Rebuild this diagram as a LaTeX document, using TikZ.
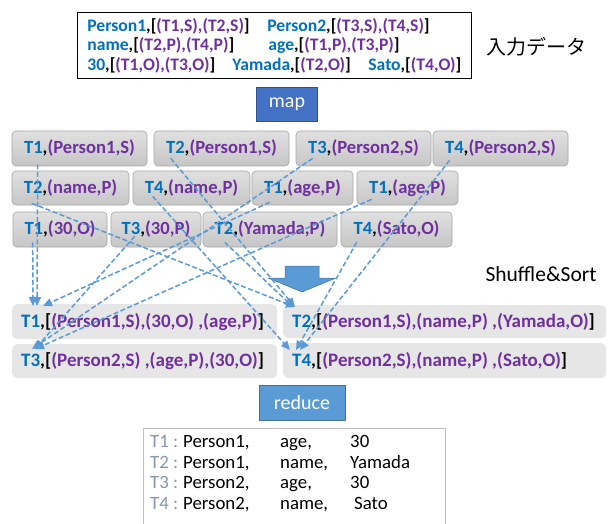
\documentclass[tikz,border=0pt]{standalone}
\usepackage{fontspec}
\setmainfont{Carlito}
\newfontfamily\jpfont{Noto Sans CJK JP}
\usetikzlibrary{arrows.meta,calc}

\definecolor{tblue}{HTML}{0070C0}
\definecolor{tpurp}{HTML}{7030A0}
\definecolor{flowblue}{HTML}{5B9BD5}
\definecolor{flowedge}{HTML}{41719C}
\definecolor{mapblue}{HTML}{4472C4}
\definecolor{mapedge}{HTML}{2F528F}
\definecolor{keytop}{HTML}{E0E0E0}
\definecolor{keybot}{HTML}{C6C6C6}
\definecolor{keyedge}{HTML}{A6A6A6}
\definecolor{groupfill}{HTML}{E7E6E6}
\definecolor{resedge}{HTML}{BFBFBF}
\definecolor{tidgray}{HTML}{8496B0}

\newcommand\kb[1]{\textcolor{tblue}{#1}}
\newcommand\kp[1]{\textcolor{tpurp}{#1}}

\tikzset{
  kvbox/.style={draw=keyedge, line width=0.6pt, top color=keytop, bottom color=keybot,
    rounded corners=4pt, inner sep=0pt, align=center,
    font=\bfseries\fontsize{18.6}{20}\selectfont},
  groupbox/.style={fill=groupfill, rounded corners=5pt, inner xsep=9pt, inner ysep=0pt,
    font=\bfseries\fontsize{19}{21}\selectfont},
  phase/.style={line width=0.6pt, inner sep=0pt, text=white,
    font=\fontsize{20}{22}\selectfont},
  flow/.style={draw=flowblue, line width=1.5pt, dash pattern=on 5pt off 2.5pt,
    -{Triangle[length=9pt,width=8pt]}},
}

\begin{document}
\begin{tikzpicture}[x=1pt,y=-1pt]
\clip (0,0) rectangle (608,524);
\fill[white] (0,0) rectangle (608,524);

% input index
\node[draw=black, line width=0.8pt, minimum width=394pt, minimum height=66pt,
  inner xsep=10pt, text width=374pt, align=left, anchor=north west,
  font=\bfseries\fontsize{17.6}{19.5}\selectfont] (input) at (77,12)
{\makebox[180pt][l]{\kb{Person1},[\kp{(T1,S),(T2,S)}]}\kb{Person2},[\kp{(T3,S),(T4,S)}]\\
 \makebox[181pt][l]{\kb{name},[\kp{(T2,P),(T4,P)}]}\kb{age},[\kp{(T1,P),(T3,P)}]\\
 \makebox[145pt][l]{\kb{30},[\kp{(T1,O),(T3,O)}]}\makebox[136pt][l]{\kb{Yamada},[\kp{(T2,O)}]}\kb{Sato},[\kp{(T4,O)}]};
\node[anchor=west, font=\jpfont\fontsize{20}{22}\selectfont] (inlabel) at (483,47) {入力データ};

% map phase
\node[phase, fill=mapblue, draw=mapedge, minimum width=61pt, minimum height=34pt] (map) at (287,104) {map};

% intermediate key/value pairs
\node[kvbox, minimum width=135pt, minimum height=35pt] (a1) at (79.5,148.5) {\kb{T1},\kp{(Person1,S)}};
\node[kvbox, minimum width=135pt, minimum height=35pt] (a2) at (221.5,148.5) {\kb{T2},\kp{(Person1,S)}};
\node[kvbox, minimum width=135pt, minimum height=35pt] (a3) at (363.5,148.5) {\kb{T3},\kp{(Person2,S)}};
\node[kvbox, minimum width=135pt, minimum height=35pt] (a4) at (500.5,148.5) {\kb{T4},\kp{(Person2,S)}};

\node[kvbox, minimum width=117pt, minimum height=34pt] (b1) at (70.5,188) {\kb{T2},\kp{(name,P)}};
\node[kvbox, minimum width=117pt, minimum height=34pt] (b2) at (191.5,188) {\kb{T4},\kp{(name,P)}};
\node[kvbox, minimum width=101pt, minimum height=34pt] (b3) at (302.5,188) {\kb{T1},\kp{(age,P)}};
\node[kvbox, minimum width=101pt, minimum height=34pt] (b4) at (407.5,188) {\kb{T1},\kp{(age,P)}};

\node[kvbox, minimum width=94pt, minimum height=35pt] (c1) at (60,229.5) {\kb{T1},\kp{(30,O)}};
\node[kvbox, minimum width=90pt, minimum height=35pt] (c2) at (156,229.5) {\kb{T3},\kp{(30,P)}};
\node[kvbox, minimum width=134pt, minimum height=35pt] (c3) at (270,229.5) {\kb{T2},\kp{(Yamada,P)}};
\node[kvbox, minimum width=111pt, minimum height=35pt] (c4) at (396.5,229.5) {\kb{T4},\kp{(Sato,O)}};

% shuffle arrow
\path[fill=flowblue, draw=flowedge, line width=0.5pt]
  (285,266) -- (319,266) -- (319,278) -- (336,278) -- (302,292) -- (268,278) -- (285,278) -- cycle;
\node[anchor=west, font=\fontsize{21.5}{23}\selectfont] (shuffle) at (482,274) {Shuffle\&Sort};

% grouped records
\node[groupbox, minimum height=35pt, anchor=north west] (d1) at (12,304)
  {\makebox[247pt][l]{\kb{T1},[\kp{(Person1,S),(30,O) ,(age,P)}]}};
\node[groupbox, minimum height=34pt, anchor=north west] (d3) at (12,344)
  {\makebox[247pt][l]{\kb{T3},[\kp{(Person2,S) ,(age,P),(30,O)}]}};
\node[groupbox, minimum height=33pt, anchor=north west] (d2) at (283,305)
  {\makebox[305pt][l]{\kb{T2},[\kp{(Person1,S),(name,P) ,(Yamada,O)}]}};
\node[groupbox, minimum height=35pt, anchor=north west] (d4) at (283,343)
  {\makebox[305pt][l]{\kb{T4},[\kp{(Person2,S),(name,P) ,(Sato,O)}]}};

% arrow end points
\coordinate (s11) at ($(a1.south west)+(26,-2)$);
\coordinate (s12) at ($(c1.south west)+(20,-5)$);
\coordinate (s13) at ($(b3.south west)+(18,-3)$);
\coordinate (s21) at ($(a2.south west)+(17,-8)$);
\coordinate (s22) at ($(b1.south west)+(20,-2)$);
\coordinate (s23) at ($(c3.south west)+(22,-5)$);
\coordinate (s31) at ($(a3.south west)+(17,-8)$);
\coordinate (s32) at ($(c2.south west)+(24,-11)$);
\coordinate (s33) at ($(b4.south west)+(15,-6)$);
\coordinate (s41) at ($(a4.south west)+(17,-6)$);
\coordinate (s42) at ($(b2.south west)+(20,-9)$);
\coordinate (s43) at ($(c4.south west)+(16,-5)$);

\coordinate (e11) at ($(d1.north west)+(25,2)$);
\coordinate (e12) at ($(d1.north west)+(21,2)$);
\coordinate (e13) at ($(d1.north west)+(31,2)$);
\coordinate (e21) at ($(d2.north west)+(12,2)$);
\coordinate (e22) at ($(d2.north west)+(12,2)$);
\coordinate (e23) at ($(d2.north west)+(10,2)$);
\coordinate (e31) at ($(d3.north west)+(20,5)$);
\coordinate (e32) at ($(d3.north west)+(23,5)$);
\coordinate (e33) at ($(d3.north west)+(23,5)$);
\coordinate (e41) at ($(d4.north west)+(17,7)$);
\coordinate (e42) at ($(d4.north west)+(7,7)$);
\coordinate (e43) at ($(d4.north west)+(13,7)$);

\foreach \k in {11,12,13,21,22,23,31,32,33,41,42,43}
  \draw[flow] (s\k) -- (e\k);

% reduce phase
\node[phase, fill=flowblue, draw=flowedge, minimum width=86pt, minimum height=35pt] (reduce) at (302,402.5) {reduce};

% result triples
\node[draw=resedge, line width=0.8pt, minimum width=302pt, minimum height=110pt,
  anchor=north west, inner sep=0pt] (res) at (143,428) {};
\node[anchor=north west, inner sep=0pt, align=left,
  font=\fontsize{18.8}{20.7}\selectfont] (restext) at (150,435)
{\makebox[33pt][l]{\textcolor{tidgray}{T1 :}}\makebox[97pt][l]{Person1,}\makebox[70pt][l]{age,}30\\
 \makebox[33pt][l]{\textcolor{tidgray}{T2 :}}\makebox[97pt][l]{Person1,}\makebox[70pt][l]{name,}Yamada\\
 \makebox[33pt][l]{\textcolor{tidgray}{T3 :}}\makebox[97pt][l]{Person2,}\makebox[70pt][l]{age,}30\\
 \makebox[33pt][l]{\textcolor{tidgray}{T4 :}}\makebox[97pt][l]{Person2,}\makebox[70pt][l]{name,}\hspace{4pt}Sato};
\end{tikzpicture}
\end{document}
